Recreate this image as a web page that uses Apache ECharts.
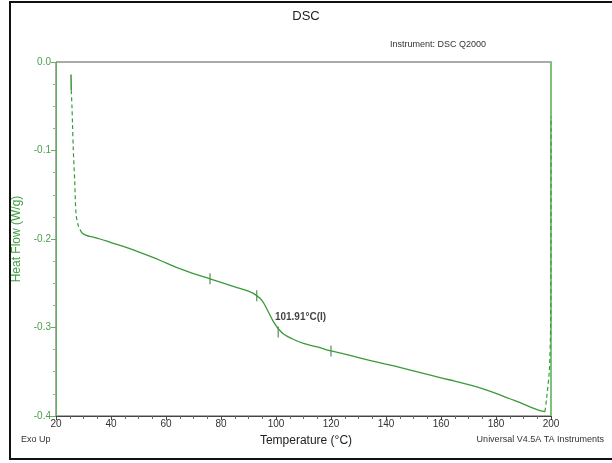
<!DOCTYPE html>
<html><head><meta charset="utf-8">
<script src="https://cdn.jsdelivr.net/npm/echarts@6/dist/echarts.min.js"></script>
<style>html,body{margin:0;padding:0;background:#fff}#c{width:612px;height:463px}</style>
</head><body><div id="c"></div>
<script>
// Short solid piece at the very start
const headT = [25.45, 25.55];
const headV = [-0.014, -0.032];
// Steep initial segment (sparse sampling, appears dashed)
const startT = [25.55, 25.8, 26.0, 26.3, 26.8, 27.3, 28.2, 29.4];
const startV = [-0.032, -0.050, -0.069, -0.100, -0.134, -0.172, -0.186, -0.193];
// Main curve
const mainT = [29.4, 31, 33.6, 36, 40, 45, 50, 55, 60, 65, 70, 76, 80, 85, 90, 93, 95, 97, 99, 101, 103, 106, 110, 115, 120, 125, 130, 138, 145, 150, 155, 160, 165, 170, 175, 180, 185, 190, 193, 196, 197.8];
const mainV = [-0.193, -0.196, -0.198, -0.200, -0.204, -0.209, -0.2145, -0.2205, -0.227, -0.2335, -0.239, -0.245, -0.249, -0.254, -0.259, -0.264, -0.270, -0.281, -0.293, -0.302, -0.308, -0.313, -0.318, -0.322, -0.3265, -0.330, -0.334, -0.340, -0.345, -0.349, -0.353, -0.357, -0.3605, -0.3645, -0.369, -0.3745, -0.3805, -0.3865, -0.3905, -0.394, -0.395];
// Steep final segment
const endT = [197.8, 198.4, 199.4, 199.85, 199.95, 200];
const endV = [-0.395, -0.380, -0.349, -0.300, -0.200, -0.062];
// Analysis marks on the curve
const markT = [76, 93, 100.8, 120];
const markV = [-0.245, -0.264, -0.305, -0.3265];
// Annotation
const annT = [99.6];
const annV = [-0.2885];
const annText = ['101.91°C(I)'];
const xTicks = [20, 40, 60, 80, 100, 120, 140, 160, 180, 200];

const zip = (a, b) => a.map((v, i) => [v, b[i]]);
const green = '#3a9a3a';
const font = 'Liberation Sans, Arial, sans-serif';

const chart = echarts.init(document.getElementById('c'));
chart.setOption({
  animation: false,
  backgroundColor: '#fff',
  grid: { left: 56, right: 61, top: 62, bottom: 47, show: true, borderColor: '#555', borderWidth: 1, backgroundColor: 'transparent' },
  xAxis: [{
    type: 'value', min: 20, max: 200, interval: 20,
    axisLine: { onZero: false, lineStyle: { color: '#444', width: 1 } },
    axisTick: { show: true, length: 4, lineStyle: { color: '#444' } },
    minorTick: { show: true, splitNumber: 4, length: 3, lineStyle: { color: '#666' } },
    splitLine: { show: false },
    axisLabel: { color: '#333', fontSize: 10, fontFamily: font, margin: 3, customValues: xTicks }
  }],
  yAxis: [{
    type: 'value', min: -0.4, max: 0, interval: 0.1,
    name: 'Heat Flow (W/g)', nameLocation: 'middle', nameGap: 32,
    nameTextStyle: { color: '#3f9f3f', fontSize: 12, fontFamily: font },
    axisLine: { show: true, onZero: false, lineStyle: { color: '#5cb35c', width: 1 } },
    axisTick: { show: true, length: 5, lineStyle: { color: '#5cb35c' } },
    minorTick: { show: true, splitNumber: 4, length: 3, lineStyle: { color: '#7cc27c' } },
    splitLine: { show: false },
    axisLabel: { color: '#4a9f4a', fontSize: 10, fontFamily: font, margin: 5,
      formatter: v => v.toFixed(1) }
  }, {
    type: 'value', position: 'right', min: -0.4, max: 0,
    axisLine: { show: true, onZero: false, lineStyle: { color: '#7cc27c', width: 2 } },
    axisTick: { show: false }, minorTick: { show: false },
    axisLabel: { show: false }, splitLine: { show: false }
  }],
  series: [
    { type: 'line', data: zip(headT, headV), symbol: 'none',
      lineStyle: { color: green, width: 1.5 } },
    { type: 'line', data: zip(startT, startV), symbol: 'none', smooth: 0.3,
      lineStyle: { color: green, width: 1.2, type: [4, 3] } },
    { type: 'line', data: zip(mainT, mainV), symbol: 'none', smooth: 0.4,
      lineStyle: { color: green, width: 1.3 } },
    { type: 'line', data: zip(endT, endV), symbol: 'none', smooth: 0.2,
      lineStyle: { color: green, width: 1.2, type: [4, 3] } },
    { type: 'scatter', data: zip(markT, markV), symbol: 'rect', symbolSize: [1.2, 11],
      itemStyle: { color: '#2f6f2f' } },
    { type: 'scatter', data: zip(annT, annV).map((d, i) => ({ value: d, name: annText[i] })),
      symbolSize: 0,
      label: { show: true, position: 'right', distance: 0, formatter: p => p.name,
        color: '#111', fontSize: 10, fontWeight: 'bold', fontFamily: font } }
  ],
  graphic: [
    { type: 'rect', shape: { x: 10, y: 2, width: 640, height: 457 },
      style: { fill: 'none', stroke: '#111', lineWidth: 2 }, silent: true },
    { type: 'text', x: 306, y: 16, style: { text: 'DSC', font: '13px ' + font, fill: '#222', align: 'center', verticalAlign: 'middle' } },
    { type: 'text', x: 486, y: 45, style: { text: 'Instrument: DSC Q2000', font: '9px ' + font, fill: '#333', align: 'right', verticalAlign: 'middle' } },
    { type: 'text', x: 21, y: 440, style: { text: 'Exo Up', font: '9px ' + font, fill: '#333', align: 'left', verticalAlign: 'middle' } },
    { type: 'text', x: 306, y: 441, style: { text: 'Temperature (°C)', font: '12px ' + font, fill: '#222', align: 'center', verticalAlign: 'middle' } },
    { type: 'text', x: 604, y: 440, style: { text: 'Universal V4.5A TA Instruments', font: '9px ' + font, fill: '#333', align: 'right', verticalAlign: 'middle' } }
  ]
});
</script></body></html>
